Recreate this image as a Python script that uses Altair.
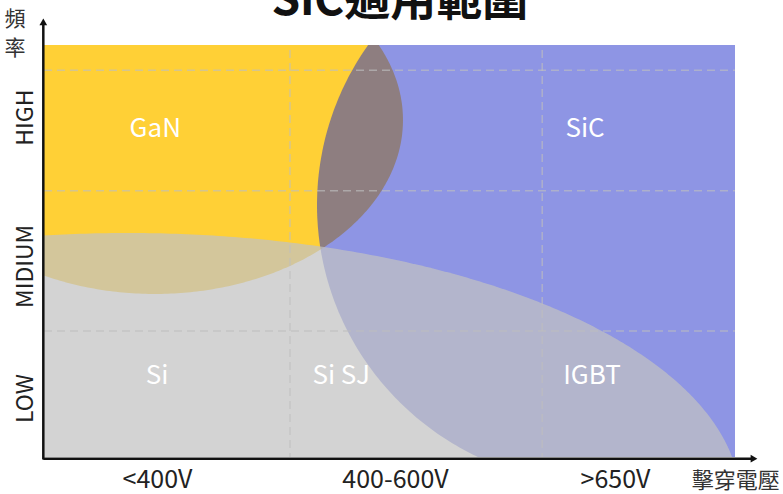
import numpy as np
import pandas as pd
import altair as alt

# ---------------- data (relative plot units: 0-100 on both axes) ----------------
x_tick_pos = [16.35, 50.8, 82.63]
x_tick_labels = ["<400V", "400-600V", ">650V"]
y_tick_pos = [82.5, 46.4, 14.3]
y_tick_labels = ["HIGH", "MIDIUM", "LOW"]
v_grid = [35.6, 72.1]
h_grid = [30.6, 64.6, 93.9]

region_names = ["GaN", "SiC", "Si"]
region_cx = [16.06, 80.75, 12.16]
region_cy = [81.80, 61.17, -10.44]
region_rx = [35.89, 41.24, 88.57]
region_ry = [42.23, 67.96, 64.81]
region_colors = ["#FFD036", "#1D2BC9", "#C2C2C2"]
region_opacity = [1.0, 0.5, 0.72]

label_text = ["GaN", "SiC", "Si", "Si SJ", "IGBT"]
label_x = [16.1, 78.3, 16.35, 43.0, 79.3]
label_y = [79.6, 79.6, 19.7, 19.7, 19.7]

title_text = "SiC適用範圍"
x_title = "擊穿電壓"
y_title = "頻\n率"

FONT = "Noto Sans CJK TC"
W, H = 691, 412

xs = alt.Scale(domain=[0, 100], nice=False, zero=False)
ys = alt.Scale(domain=[0, 100], nice=False, zero=False)


def label_expr(pos, labs):
    expr = "''"
    for p, l in reversed(list(zip(pos, labs))):
        expr = f"abs(datum.value - {p}) < 0.01 ? '{l}' : {expr}"
    return expr


xaxis = alt.Axis(values=x_tick_pos, labelExpr=label_expr(x_tick_pos, x_tick_labels),
                 title=None, domain=False, ticks=False, tickSize=0, grid=False,
                 labelFont=FONT, labelFontSize=25, labelColor="#222",
                 labelPadding=30, labelBaseline="alphabetic", labelAlign="center",
                 labelFlush=False, labelOverlap=False)
yaxis = alt.Axis(values=y_tick_pos, labelExpr=label_expr(y_tick_pos, y_tick_labels),
                 title=None, domain=False, ticks=False, tickSize=0, grid=False,
                 labelFont=FONT, labelFontSize=23, labelColor="#222",
                 labelAngle=270, labelAlign="center", labelBaseline="alphabetic",
                 labelPadding=12, labelFlush=False, labelOverlap=False)


def X(f):
    return alt.X(f, type="quantitative", scale=xs, axis=xaxis)


def Y(f):
    return alt.Y(f, type="quantitative", scale=ys, axis=yaxis)


# ---------------- shapes ----------------
t = np.linspace(-np.pi / 2, np.pi / 2, 241)
t2 = np.linspace(0, np.pi, 361)

i = 0  # GaN
gan = pd.DataFrame({
    "y": region_cy[i] + region_ry[i] * np.sin(t),
    "x": region_cx[i] - region_rx[i] * np.cos(t),
    "x2": region_cx[i] + region_rx[i] * np.cos(t),
})
i = 1  # SiC
sic = pd.DataFrame({
    "y": region_cy[i] + region_ry[i] * np.sin(t),
    "x": region_cx[i] - region_rx[i] * np.cos(t),
    "x2": np.full_like(t, 100.0),
})
i = 2  # Si
si = pd.DataFrame({
    "x": region_cx[i] + region_rx[i] * np.cos(t2),
    "y": region_cy[i] + region_ry[i] * np.sin(t2),
    "y2": np.full_like(t2, region_cy[i]),
})

gan_layer = alt.Chart(gan).mark_area(orient="horizontal", clip=True,
                                     color=region_colors[0], opacity=region_opacity[0]
                                     ).encode(y=Y("y"), x=X("x"), x2="x2")
sic_layer = alt.Chart(sic).mark_area(orient="horizontal", clip=True,
                                     color=region_colors[1], opacity=region_opacity[1]
                                     ).encode(y=Y("y"), x=X("x"), x2="x2")
si_layer = alt.Chart(si).mark_area(orient="vertical", clip=True,
                                   color=region_colors[2], opacity=region_opacity[2]
                                   ).encode(x=X("x"), y=Y("y"), y2="y2")

# ---------------- grid ----------------
vg = pd.DataFrame({"x": v_grid, "y": [98.8] * len(v_grid), "y2": [0.0] * len(v_grid)})
hg = pd.DataFrame({"y": h_grid, "x": [0.0] * len(h_grid), "x2": [100.0] * len(h_grid)})
grid_style = dict(color="#BEBEBE", opacity=0.65, strokeWidth=1.5, strokeDash=[8, 5])
vg_layer = alt.Chart(vg).mark_rule(**grid_style).encode(x=X("x"), y=Y("y"), y2="y2")
hg_layer = alt.Chart(hg).mark_rule(**grid_style).encode(y=Y("y"), x=X("x"), x2="x2")

# ---------------- axis lines with arrows ----------------
ax_v = pd.DataFrame({"x": [-0.1], "y": [-0.6], "y2": [105.1]})
ax_h = pd.DataFrame({"y": [-0.4], "x": [-0.1], "x2": [102.5]})
axv_layer = alt.Chart(ax_v).mark_rule(color="#111", strokeWidth=2.5).encode(x=X("x"), y=Y("y"), y2="y2")
axh_layer = alt.Chart(ax_h).mark_rule(color="#111", strokeWidth=2.5).encode(y=Y("y"), x=X("x"), x2="x2")
arr_up = alt.Chart(pd.DataFrame({"x": [-0.1], "y": [105.6]})).mark_point(
    shape="triangle-up", filled=True, color="#111", size=60, opacity=1).encode(x=X("x"), y=Y("y"))
arr_rt = alt.Chart(pd.DataFrame({"x": [102.75], "y": [-0.4]})).mark_point(
    shape="triangle-right", filled=True, color="#111", size=60, opacity=1).encode(x=X("x"), y=Y("y"))

# ---------------- texts ----------------
labels = pd.DataFrame({"text": label_text, "x": label_x, "y": label_y})
label_layer = alt.Chart(labels).mark_text(color="white", font=FONT, fontSize=26,
                                          baseline="middle", align="center"
                                          ).encode(x=X("x"), y=Y("y"), text="text:N")

title_layer = alt.Chart(pd.DataFrame({"text": [title_text], "x": [51.5], "y": [107.3]})).mark_text(
    font=FONT, fontSize=46, fontWeight="bold", color="#111", baseline="alphabetic", align="center"
).encode(x=X("x"), y=Y("y"), text="text:N")

xt_layer = alt.Chart(pd.DataFrame({"text": [x_title], "x": [100.1], "y": [-7.6]})).mark_text(
    font=FONT, fontSize=22, color="#333", baseline="alphabetic", align="center"
).encode(x=X("x"), y=Y("y"), text="text:N")

yt_layer = alt.Chart(pd.DataFrame({"text": [y_title], "x": [-4.2], "y": [108.7]})).mark_text(
    font=FONT, fontSize=21, color="#333", baseline="top", align="center", lineBreak="\n", lineHeight=29
).encode(x=X("x"), y=Y("y"), text="text:N")

chart = alt.layer(
    gan_layer, sic_layer, si_layer,
    vg_layer, hg_layer,
    label_layer,
    axv_layer, axh_layer, arr_up, arr_rt,
    title_layer, xt_layer, yt_layer,
).properties(
    width=W, height=H,
    autosize=alt.AutoSizeParams(type="none"),
    padding={"left": 44, "top": 45, "right": 48, "bottom": 37},
    background="white",
).configure_view(stroke=None)

chart.save("out.html", embed_options={"renderer": "svg", "actions": False})
